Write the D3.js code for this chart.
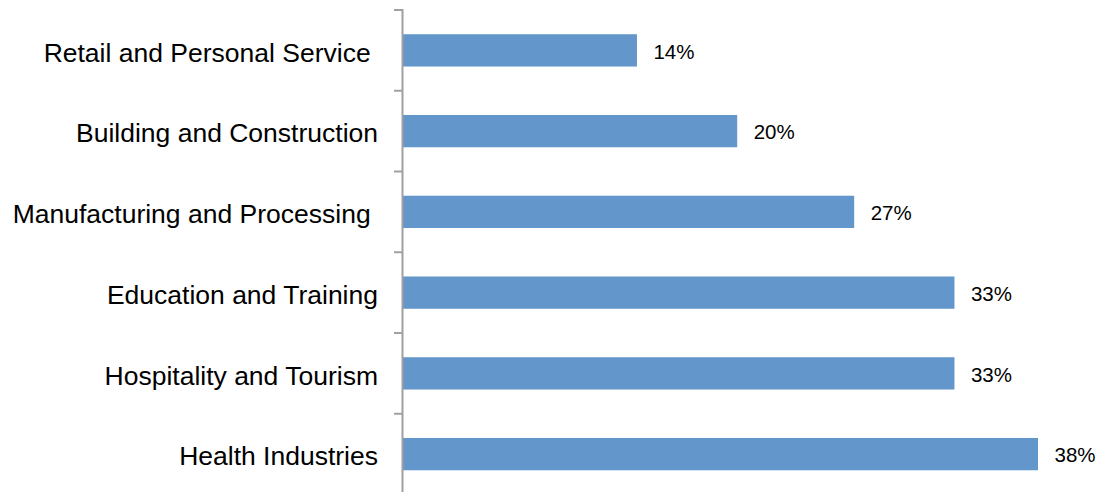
<!DOCTYPE html>
<html>
<head>
<meta charset="utf-8">
<script src="https://cdn.jsdelivr.net/npm/d3@7"></script>
<style>
  html, body { margin: 0; padding: 0; background: #fff; }
  svg { display: block; }
  text { font-family: Arial, "Liberation Sans", sans-serif; fill: #000; white-space: pre; }
</style>
</head>
<body>
<svg id="chart" width="1102" height="492"></svg>
<script>
// Share of respondents by industry (percent)
const categories = [
  "Retail and Personal Service ",
  "Building and Construction",
  "Manufacturing and Processing ",
  "Education and Training",
  "Hospitality and Tourism",
  "Health Industries"
];
const values = [14, 20, 27, 33, 33, 38];
const valueLabels = ["14%", "20%", "27%", "33%", "33%", "38%"];

const svg = d3.select("#chart");

const x = d3.scaleLinear().domain([0, 38]).range([403, 1038]);
const y = d3.scaleBand()
  .domain(categories)
  .range([10, 494.5])
  .paddingInner(0.6)
  .paddingOuter(0.3);

const step = y.step();
const axisColor = "#a0a0a0";

// Bars
svg.append("g").selectAll("rect")
  .data(categories)
  .join("rect")
  .attr("x", x(0))
  .attr("y", d => y(d))
  .attr("width", (d, i) => x(values[i]) - x(0))
  .attr("height", y.bandwidth())
  .attr("fill", "#6396CA");

// Value labels
svg.append("g").selectAll("text")
  .data(categories)
  .join("text")
  .attr("x", (d, i) => x(values[i]) + 16.5)
  .attr("y", d => y(d) + y.bandwidth() / 2)
  .attr("dy", "0.4em")
  .attr("font-size", 20.5)
  .text((d, i) => valueLabels[i]);

// Category labels
svg.append("g").selectAll("text")
  .data(categories)
  .join("text")
  .attr("xml:space", "preserve")
  .attr("x", 378)
  .attr("y", d => y(d) + y.bandwidth() / 2)
  .attr("dy", "0.42em")
  .attr("text-anchor", "end")
  .attr("font-size", 26.5)
  .text(d => d);

// Category axis with ticks at band boundaries
const axis = svg.append("g");
const y0 = y.range()[0], y1 = y.range()[1];
axis.append("line")
  .attr("x1", 402.5).attr("x2", 402.5)
  .attr("y1", y0 - 1).attr("y2", y1)
  .attr("stroke", axisColor).attr("stroke-width", 2);
axis.selectAll("line.tick")
  .data(d3.range(categories.length + 1))
  .join("line")
  .attr("class", "tick")
  .attr("x1", 394).attr("x2", 402)
  .attr("y1", i => y0 + i * step)
  .attr("y2", i => y0 + i * step)
  .attr("stroke", axisColor).attr("stroke-width", 2);
</script>
</body>
</html>
